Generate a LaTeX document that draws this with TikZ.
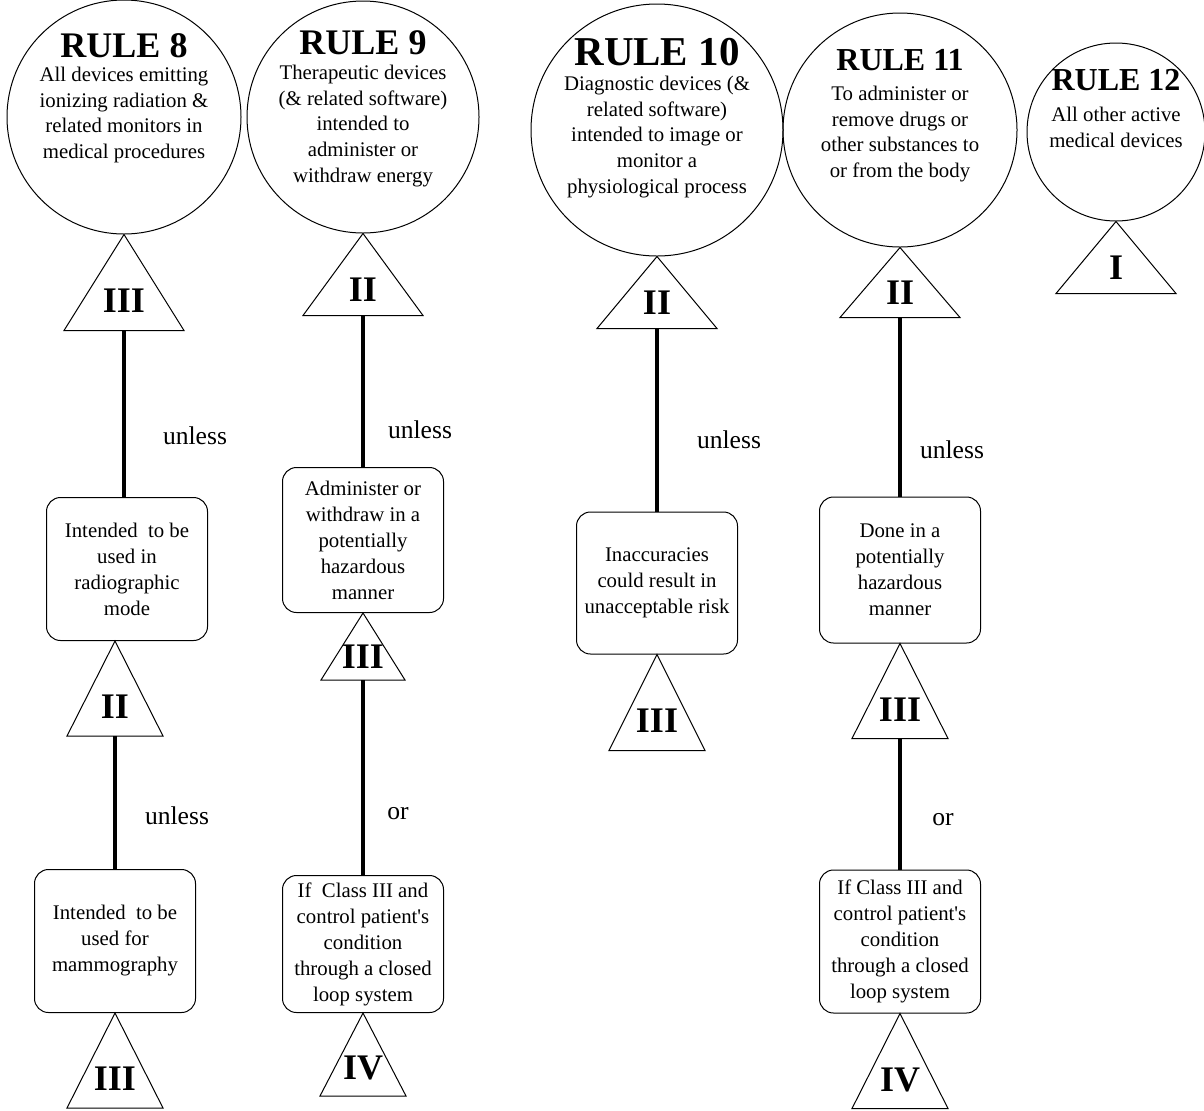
\documentclass[tikz,border=0pt]{standalone}
\usepackage{fontspec}
\setmainfont{Liberation Serif}
\usetikzlibrary{calc}
\begin{document}
\begin{tikzpicture}[x=0.5pt,y=-0.5pt,
  rulecirc/.style={draw, circle, line width=0.5pt, inner sep=0pt},
  ruletitle/.style={font=\bfseries\fontsize{18}{20}\selectfont},
  ruletext/.style={align=center, font=\fontsize{10.4}{12.9}\selectfont},
  stepbox/.style={draw, rounded corners=7pt, line width=0.5pt, minimum width=80.5pt, minimum height=71.5pt, align=center, inner sep=0pt, font=\fontsize{10.4}{13}\selectfont},
  classmark/.style={font=\bfseries\fontsize{18}{20}\selectfont},
  tri/.style={draw, line width=0.5pt},
  link/.style={draw, line width=2pt},
  cond/.style={font=\fontsize{12.8}{15}\selectfont}]
\useasboundingbox (0,0) rectangle (1204,1110);
% rule circles
\node[rulecirc, minimum size=117pt] (c8) at (124,117) {};
\node[rulecirc, minimum size=116pt] (c9) at (363,117) {};
\node[rulecirc, minimum size=126pt] (c10) at (657,130) {};
\node[rulecirc, minimum size=117pt] (c11) at (900,130) {};
\node[rulecirc, minimum size=89pt] (c12) at (1116,132) {};
\node[ruletitle] (r8) at (124,46) {RULE 8};
\node[ruletitle] (r9) at (363,43) {RULE 9};
\node[ruletitle, font=\bfseries\fontsize{20.5}{22}\selectfont] (r10) at (657,52) {RULE 10};
\node[ruletitle, font=\bfseries\fontsize{16}{18}\selectfont] (r11) at (900,60) {RULE 11};
\node[ruletitle, font=\bfseries\fontsize{16}{18}\selectfont] (r12) at (1116,80) {RULE 12};
\node[ruletext] (d8) at (124,115) {All devices emitting\\ionizing radiation \&\\related monitors in\\medical procedures};
\node[ruletext] (d9) at (363,126) {Therapeutic devices\\(\& related software)\\intended to\\administer or\\withdraw energy};
\node[ruletext] (d10) at (657,137) {Diagnostic devices (\&\\related software)\\intended to image or\\monitor a\\physiological process};
\node[ruletext] (d11) at (900,134) {To administer or\\remove drugs or\\other substances to\\or from the body};
\node[ruletext] (d12) at (1116,127) {All other active\\medical devices};
% condition boxes
\node[stepbox] (b8a) at (127,569) {Intended\ \ to be\\used in\\radiographic\\mode};
\node[stepbox] (b8b) at (115,941) {Intended\ \ to be\\used for\\mammography};
\node[stepbox, minimum height=72.5pt] (b9a) at (363,540) {Administer or\\withdraw in a\\potentially\\hazardous\\manner};
\node[stepbox, minimum height=68.5pt] (b9b) at (363,944) {If\ \ Class III and\\control patient\textquotesingle s\\condition\\through a closed\\loop system};
\node[stepbox, minimum height=71pt] (b10) at (657,583) {Inaccuracies\\could result in\\unacceptable risk};
\node[stepbox, minimum height=73pt] (b11a) at (900,570) {Done in a\\potentially\\hazardous\\manner};
\node[stepbox] (b11b) at (900,941.5) {If Class III and\\control patient\textquotesingle s\\condition\\through a closed\\loop system};
% class triangles
\draw[tri] (c8.south) -- ++(-60,96) -- ++(120,0) -- cycle;
\draw[tri] (b8b.north |- b8a.south) -- ++(-48,95) -- ++(96,0) -- cycle;
\draw[tri] (b8b.south) -- ++(-48,95) -- ++(96,0) -- cycle;
\draw[tri] (c9.south) -- ++(-60,82) -- ++(120,0) -- cycle;
\draw[tri] (b9a.south) -- ++(-42,67) -- ++(84,0) -- cycle;
\draw[tri] (b9b.south) -- ++(-43,83) -- ++(86,0) -- cycle;
\draw[tri] (c10.south) -- ++(-60,72) -- ++(120,0) -- cycle;
\draw[tri] (b10.south) -- ++(-48,96) -- ++(96,0) -- cycle;
\draw[tri] (c11.south) -- ++(-60,70) -- ++(120,0) -- cycle;
\draw[tri] (b11a.south) -- ++(-48,95) -- ++(96,0) -- cycle;
\draw[tri] (b11b.south) -- ++(-48,95) -- ++(96,0) -- cycle;
\draw[tri] (c12.south) -- ++(-60,72) -- ++(120,0) -- cycle;
\node[classmark] (k8a) at ($(c8.south)+(0,66)$) {III};
\node[classmark] (k8b) at ($(b8b.north |- b8a.south)+(0,66)$) {II};
\node[classmark] (k8c) at ($(b8b.south)+(0,66)$) {III};
\node[classmark] (k9a) at ($(c9.south)+(0,56)$) {II};
\node[classmark] (k9b) at ($(b9a.south)+(0,44)$) {III};
\node[classmark] (k9c) at ($(b9b.south)+(0,55)$) {IV};
\node[classmark] (k10a) at ($(c10.south)+(0,46)$) {II};
\node[classmark] (k10b) at ($(b10.south)+(0,66)$) {III};
\node[classmark] (k11a) at ($(c11.south)+(0,45)$) {II};
\node[classmark] (k11b) at ($(b11a.south)+(0,66)$) {III};
\node[classmark] (k11c) at ($(b11b.south)+(0,66)$) {IV};
\node[classmark] (k12) at ($(c12.south)+(0,46)$) {I};
% links
\coordinate (e8a) at ($(c8.south)+(0,96)$);
\coordinate (e8b) at ($(b8b.north |- b8a.south)+(0,95)$);
\coordinate (e9a) at ($(c9.south)+(0,82)$);
\coordinate (e9b) at ($(b9a.south)+(0,67)$);
\coordinate (e10) at ($(c10.south)+(0,72)$);
\coordinate (e11a) at ($(c11.south)+(0,70)$);
\coordinate (e11b) at ($(b11a.south)+(0,95)$);
\path[link] (e8a) -- (e8a |- b8a.north);
\path[link] (e8b) -- (b8b.north);
\path[link] (e9a) -- (b9a.north);
\path[link] (e9b) -- (b9b.north);
\path[link] (e10) -- (b10.north);
\path[link] (e11a) -- (b11a.north);
\path[link] (e11b) -- (b11b.north);
\node[cond] (u8a) at (195,436) {unless};
\node[cond] (u8b) at (177,816) {unless};
\node[cond] (u9) at (420,430) {unless};
\node[cond] (o9) at (398,814) {or};
\node[cond] (u10) at (729,440) {unless};
\node[cond] (u11) at (952,450) {unless};
\node[cond] (o11) at (943,820) {or};
\end{tikzpicture}
\end{document}
